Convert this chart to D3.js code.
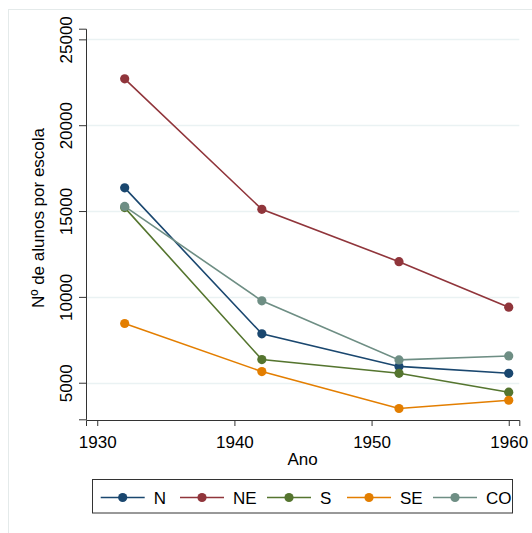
<html lang='pt'>
    <head>
        <script src="https://d3js.org/d3.v7.min.js" charset="utf-8"></script>
        <style>
          body { margin: 0; background: white; }
          text { font-family: "Liberation Sans", Arial, sans-serif; fill: #000; }
        </style>
    </head>
    <body>
        <script>
            // data
            var anos = [1932, 1942, 1952, 1960]
            var regioes = ["N", "NE", "S", "SE", "CO"]
            var cores = ["#1a476f", "#90353b", "#55752f", "#e37e00", "#6e8e84"]
            var valN  = [16350, 7850, 5950, 5550]
            var valNE = [22700, 15100, 12050, 9400]
            var valS  = [15200, 6350, 5550, 4450]
            var valSE = [8450, 5650, 3500, 3980]
            var valCO = [15270, 9770, 6330, 6560]
            var xTicks = [1930, 1940, 1950, 1960]
            var yTicks = [5000, 10000, 15000, 20000, 25000]

            var series = [valN, valNE, valS, valSE, valCO].map(function(v, i) {
              return { nome: regioes[i], cor: cores[i], pts: anos.map(function(a, j) { return [a, v[j]] }) }
            })

            var width = 532
            var height = 533

            var svg = d3.select("body")
                        .append("svg")
                        .attr("width", width)
                        .attr("height", height)

            // outer frame
            svg.append("rect")
               .attr("x", 8.5).attr("y", 9.5)
               .attr("width", 540).attr("height", 540)
               .attr("fill", "white")
               .attr("stroke", "#e4eaea")

            var x = d3.scaleLinear().domain([1929.18, 1960.77]).range([86, 519.3])
            var y = d3.scaleLinear().domain([2870, 25620]).range([419.3, 28.7])

            // grid
            svg.append("g").selectAll("line")
               .data(yTicks)
               .enter().append("line")
               .attr("x1", 86).attr("x2", 519.3)
               .attr("y1", function(d) { return Math.round(y(d)) + 0.5 })
               .attr("y2", function(d) { return Math.round(y(d)) + 0.5 })
               .attr("stroke", "#eaf2f3")
               .attr("stroke-width", 1.5)

            var xAxis = svg.append("g")
               .attr("transform", "translate(0,420)")
               .call(d3.axisBottom(x).tickValues(xTicks).tickFormat(d3.format("d")).tickSizeOuter(0).tickSize(6).tickPadding(4))
            xAxis.select(".domain").attr("stroke", "#333")
            xAxis.selectAll(".tick line").attr("stroke", "#333")
            xAxis.selectAll(".tick text")
               .attr("font-size", "17px")
               .attr("font-family", "Liberation Sans, Arial, sans-serif")
               .attr("fill", "#000")
               .attr("dy", null)
               .attr("y", 28)

            var yAxis = svg.append("g")
               .attr("transform", "translate(86,0)")
               .call(d3.axisLeft(y).tickValues(yTicks).tickFormat(d3.format("d")).tickSizeOuter(0).tickSize(7))
            yAxis.select(".domain").attr("stroke", "#333")
            yAxis.selectAll(".tick line").attr("stroke", "#333")
            yAxis.selectAll(".tick text")
               .attr("font-size", "17px")
               .attr("font-family", "Liberation Sans, Arial, sans-serif")
               .attr("fill", "#000")
               .attr("x", null).attr("dy", null)
               .attr("text-anchor", "middle")
               .attr("transform", "translate(-14,0) rotate(-90)")

            svg.append("text")
               .attr("x", 302.5).attr("y", 465)
               .attr("text-anchor", "middle")
               .attr("font-size", "17px")
               .text("Ano")

            svg.append("text")
               .attr("transform", "translate(44,218) rotate(-90)")
               .attr("text-anchor", "middle")
               .attr("font-size", "17px")
               .text("Nº de alunos por escola")

            var line = d3.line()
               .x(function(d) { return x(d[0]) })
               .y(function(d) { return y(d[1]) })

            var g = svg.selectAll(".serie")
               .data(series)
               .enter().append("g")
               .attr("class", "serie")

            g.append("path")
             .attr("d", function(d) { return line(d.pts) })
             .attr("fill", "none")
             .attr("stroke", function(d) { return d.cor })
             .attr("stroke-width", 1.6)

            g.selectAll("circle")
             .data(function(d) { return d.pts.map(function(p) { return { p: p, cor: d.cor } }) })
             .enter().append("circle")
             .attr("cx", function(d) { return x(d.p[0]) })
             .attr("cy", function(d) { return y(d.p[1]) })
             .attr("r", 4.6)
             .attr("fill", function(d) { return d.cor })

            // legend
            var leg = svg.append("g")
            leg.append("rect")
               .attr("x", 92.5).attr("y", 479.5)
               .attr("width", 420).attr("height", 33.5)
               .attr("fill", "white")
               .attr("stroke", "#333")

            var legX = [100.7, 180, 267, 347, 433]
            var item = leg.selectAll(".item")
               .data(series)
               .enter().append("g")
               .attr("transform", function(d, i) { return "translate(" + legX[i] + ",497.5)" })

            item.append("line")
                .attr("x1", 0).attr("x2", 44)
                .attr("stroke", function(d) { return d.cor })
                .attr("stroke-width", 1.6)
            item.append("circle")
                .attr("cx", 22).attr("r", 4.6)
                .attr("fill", function(d) { return d.cor })
            item.append("text")
                .attr("x", 53).attr("y", 6.5)
                .attr("font-size", "17px")
                .text(function(d) { return d.nome })
        </script>
    </body>
</html>
